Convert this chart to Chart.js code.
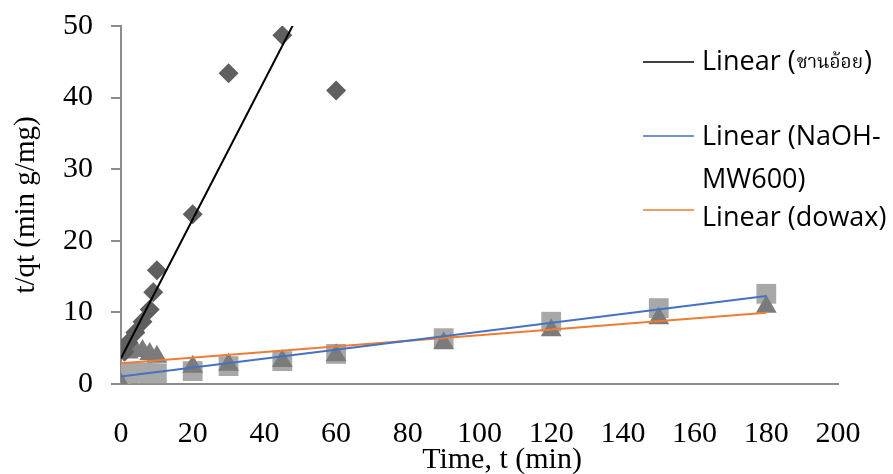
<!DOCTYPE html>
<html>
<head>
<meta charset="utf-8">
<script src="https://cdn.jsdelivr.net/npm/chart.js@4"></script>
<style>
  html, body { margin: 0; padding: 0; background: #fff; }
  #wrap { width: 893px; height: 474px; position: relative; }
</style>
</head>
<body>
<div id="wrap"><canvas id="chart" width="893" height="474"></canvas></div>
<script>
'use strict';

// sugarcane bagasse (ชานอ้อย), diamonds
const caneTimes = [1, 2, 4, 6, 8, 9, 10, 20, 30, 45, 60];
const caneValues = [4.5, 5.8, 7.2, 8.7, 10.4, 12.8, 15.9, 23.7, 43.4, 48.7, 41.0];

// NaOH-MW600 (squares) and dowax (triangles) share sampling times
const resinTimes = [0, 2, 4, 6, 8, 10, 20, 30, 45, 60, 90, 120, 150, 180];
const naohValues = [0, 1.5, 1.6, 1.6, 1.5, 1.5, 1.8, 2.5, 3.2, 4.2, 6.4, 8.7, 10.6, 12.6];
const dowaxValues = [0, 4.4, 4.8, 4.6, 4.2, 3.8, 2.4, 2.7, 3.2, 4.0, 5.7, 7.5, 9.2, 10.8];

// trendlines as [intercept, slope]
const caneFit = [3.6, 0.97];
const naohFit = [1.05, 0.0625];
const dowaxFit = [2.9, 0.0392];
const caneFitRange = [0, 60];
const resinFitRange = [0, 180];

const xTicks = [0, 200, 20];
const yTicks = [0, 50, 10];

const toPoints = (xs, ys) => xs.map((x, i) => ({ x, y: ys[i] }));
const fitLine = (fit, range) => range.map(x => ({ x, y: fit[0] + fit[1] * x }));

const legendItems = [
  { color: '#000000', lineY: 62, textY: [62], lines: ['Linear (ชานอ้อย)'] },
  { color: '#4472C4', lineY: 136, textY: [137, 180], lines: ['Linear (NaOH-', 'MW600)'] },
  { color: '#ED7D31', lineY: 210, textY: [218], lines: ['Linear (dowax)'] }
];

const serif = '"Liberation Serif", "Times New Roman", serif';
const sansFont = '27px "Open Sans"';
const thaiFont = '19px "Noto Serif Thai", "Noto Sans Thai", "Liberation Serif", serif';

// legend drawn at the right over the plot, plus the offset x axis title
const annotations = {
  id: 'annotations',
  afterDraw(chart) {
    const ctx = chart.ctx;
    ctx.save();
    ctx.textBaseline = 'middle';
    ctx.textAlign = 'left';
    legendItems.forEach(item => {
      ctx.strokeStyle = item.color;
      ctx.lineWidth = 1.5;
      ctx.beginPath();
      ctx.moveTo(643, item.lineY);
      ctx.lineTo(694, item.lineY);
      ctx.stroke();
      ctx.fillStyle = '#000';
      item.lines.forEach((txt, j) => {
        const ty = item.textY[j];
        const m = txt.match(/^(Linear \()([\u0E00-\u0E7F]+)(\))$/);
        if (m) {
          ctx.font = sansFont;
          ctx.fillText(m[1], 702, ty);
          let x = 702 + ctx.measureText(m[1]).width + 1;
          ctx.font = thaiFont;
          ctx.fillText(m[2], x, ty + 3);
          x += ctx.measureText(m[2]).width + 1;
          ctx.font = sansFont;
          ctx.fillText(m[3], x, ty);
        } else {
          ctx.font = sansFont;
          ctx.fillText(txt, 702, ty);
        }
      });
    });

    ctx.font = '30px ' + serif;
    ctx.textAlign = 'center';
    ctx.fillText('Time, t (min)', 502, 460);
    ctx.restore();
  }
};

new Chart(document.getElementById('chart'), {
  type: 'scatter',
  data: {
    datasets: [
      {
        label: 'Linear (ชานอ้อย)',
        type: 'line',
        data: fitLine(caneFit, caneFitRange),
        borderColor: '#000000',
        borderWidth: 2,
        pointRadius: 0,
        order: 0
      },
      {
        label: 'Linear (NaOH-MW600)',
        type: 'line',
        data: fitLine(naohFit, resinFitRange),
        borderColor: '#4472C4',
        borderWidth: 2,
        pointRadius: 0,
        order: 0
      },
      {
        label: 'Linear (dowax)',
        type: 'line',
        data: fitLine(dowaxFit, resinFitRange),
        borderColor: '#ED7D31',
        borderWidth: 2,
        pointRadius: 0,
        order: 0
      },
      {
        label: 'ชานอ้อย',
        data: toPoints(caneTimes, caneValues),
        pointStyle: 'rectRot',
        pointRadius: 10,
        backgroundColor: '#5f5f5f',
        borderColor: '#5f5f5f',
        borderWidth: 0,
        order: 1
      },
      {
        label: 'dowax',
        data: toPoints(resinTimes, dowaxValues),
        pointStyle: 'triangle',
        pointRadius: 12,
        backgroundColor: '#7b7b7b',
        borderColor: '#7b7b7b',
        borderWidth: 0,
        order: 2
      },
      {
        label: 'NaOH-MW600',
        data: toPoints(resinTimes, naohValues),
        pointStyle: 'rect',
        pointRadius: 14,
        backgroundColor: '#a8a8a8',
        borderColor: '#a8a8a8',
        borderWidth: 0,
        order: 3
      }
    ]
  },
  options: {
    responsive: false,
    animation: false,
    events: [],
    layout: { padding: { top: 26, right: 55, left: 0, bottom: 0 } },
    plugins: {
      legend: { display: false },
      tooltip: { enabled: false }
    },
    scales: {
      x: {
        type: 'linear',
        min: xTicks[0],
        max: xTicks[1],
        ticks: {
          stepSize: xTicks[2],
          color: '#000',
          padding: 32,
          font: { family: serif, size: 30 }
        },
        grid: { display: false, drawTicks: false },
        border: { color: '#8c8c8c', width: 2 },
        afterFit(scale) { scale.height = 90; }
      },
      y: {
        type: 'linear',
        min: yTicks[0],
        max: yTicks[1],
        ticks: {
          stepSize: yTicks[2],
          color: '#000',
          padding: 18,
          font: { family: serif, size: 30 }
        },
        grid: {
          drawOnChartArea: false,
          drawTicks: true,
          tickLength: 10,
          color: '#8c8c8c',
          lineWidth: 2
        },
        border: { color: '#8c8c8c', width: 2 },
        title: {
          display: true,
          text: 't/qt (min g/mg)',
          color: '#000',
          padding: { top: 12, bottom: 0 },
          font: { family: serif, size: 29, lineHeight: 1 }
        },
        afterFit(scale) {
          scale.width = 121;
          scale.paddingTop = 0;
          scale.paddingBottom = 0;
        }
      }
    }
  },
  plugins: [annotations]
});
</script>
</body>
</html>
